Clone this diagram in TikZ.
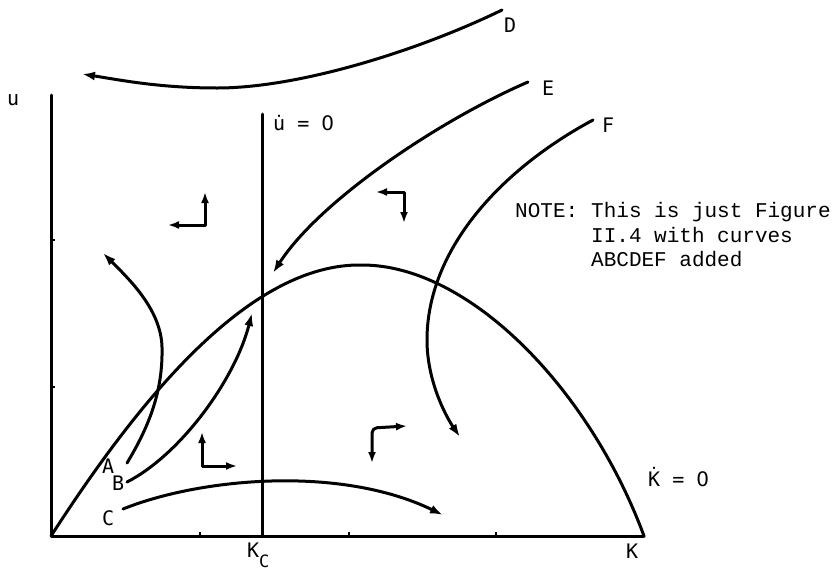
\documentclass[tikz,border=0pt]{standalone}
\usepackage{fontspec}
\setmonofont{Liberation Mono}
\newfontfamily\labfont{DejaVu Sans Mono}
\newfontfamily\zerofont{DejaVu Sans}
\usetikzlibrary{arrows.meta}
\begin{document}
\begin{tikzpicture}[x=1pt,y=-1pt,
  ln/.style={line width=3pt, line cap=round, line join=round},
  traj/.style={ln, -{Latex[length=13pt,width=9pt]}},
  dirarrow/.style={ln, {Latex[length=11pt,width=8pt]}-{Latex[length=11pt,width=8pt]}},
  lab/.style={font=\labfont\fontsize{20}{24}\selectfont, inner sep=0pt},
  note/.style={font=\ttfamily\fontsize{21}{25}\selectfont, inner sep=0pt}]
\useasboundingbox (0,0) rectangle (836,571);

% axes
\coordinate (O) at (51,536);
\coordinate (ytop) at (51,95);
\coordinate (xend) at (644,536);
\draw[ln] (ytop) -- (O) -- (xend);
% ticks
\foreach \yy in {240,387} \draw[line width=2pt] (51,\yy) -- (55,\yy);
\foreach \xx in {200,349,496} \draw[line width=2pt] (\xx,536) -- (\xx,532);

% u-dot = 0 line
\coordinate (vtop) at (262,114);
\coordinate (vbot) at (262,536);
\draw[ln] (vtop) -- (vbot);

% K-dot = 0 curve
\coordinate (peak) at (362,265);
\draw[ln] (O) .. controls (140,398) and (250,263) .. (peak)
  .. controls (470,265) and (590,390) .. (xend);

% labels
\node[lab, anchor=base west] (ulab) at (7,105) {u};
\node[lab, anchor=base west] (udot) at (273,130) {u̇ = {\zerofont 0}};
\node[lab, anchor=base west] (kdot) at (648,486) {K̇ = {\zerofont 0}};
\node[lab, anchor=base west] (Kc) at (247,557) {K\raisebox{-10pt}{\fontsize{17}{20}\selectfont C}};
\node[lab, anchor=base west] (Klab) at (626,558) {K};
\node[lab, anchor=base west] (A) at (102,473) {A};
\node[lab, anchor=base west] (B) at (112,490) {B};
\node[lab, anchor=base west] (C) at (102,525) {C};
\node[lab, anchor=base west] (D) at (504,32) {D};
\node[lab, anchor=base west] (E) at (542,95) {E};
\node[lab, anchor=base west] (F) at (602,132) {F};

% trajectories
\draw[traj] (502,10) .. controls (420,50) and (300,88) .. (217,88)
  .. controls (160,88) and (120,80) .. (82,74);
\draw[traj] (528,82) .. controls (440,120) and (320,200) .. (273,273);
\draw[traj] (593,120) .. controls (500,170) and (427,250) .. (427,340)
  .. controls (427,380) and (445,415) .. (460,437);
\draw[traj] (127,463) .. controls (150,425) and (163,390) .. (162,347)
  .. controls (161,310) and (130,280) .. (103,253);
\draw[traj] (127,482) .. controls (180,455) and (235,380) .. (252,313);
\draw[traj] (123,509) .. controls (200,478) and (340,465) .. (443,515);

% direction arrows
\draw[dirarrow] (168,225) -- (205,225) -- (205,192);
\draw[dirarrow] (376,192) -- (404,192) -- (404,223);
\draw[dirarrow] (202,432) -- (202,466) -- (237,466);
\draw[dirarrow, rounded corners=5pt] (372,463) -- (372,428) -- (407,426);

% note
\node[note, anchor=base west] (n0) at (515,217) {NOTE:};
\node[note, anchor=base west] (n1) at (591,217) {This is just Figure};
\node[note, anchor=base west] (n2) at (591,242) {II.4 with curves};
\node[note, anchor=base west] (n3) at (591,266) {ABCDEF added};
\end{tikzpicture}
\end{document}
